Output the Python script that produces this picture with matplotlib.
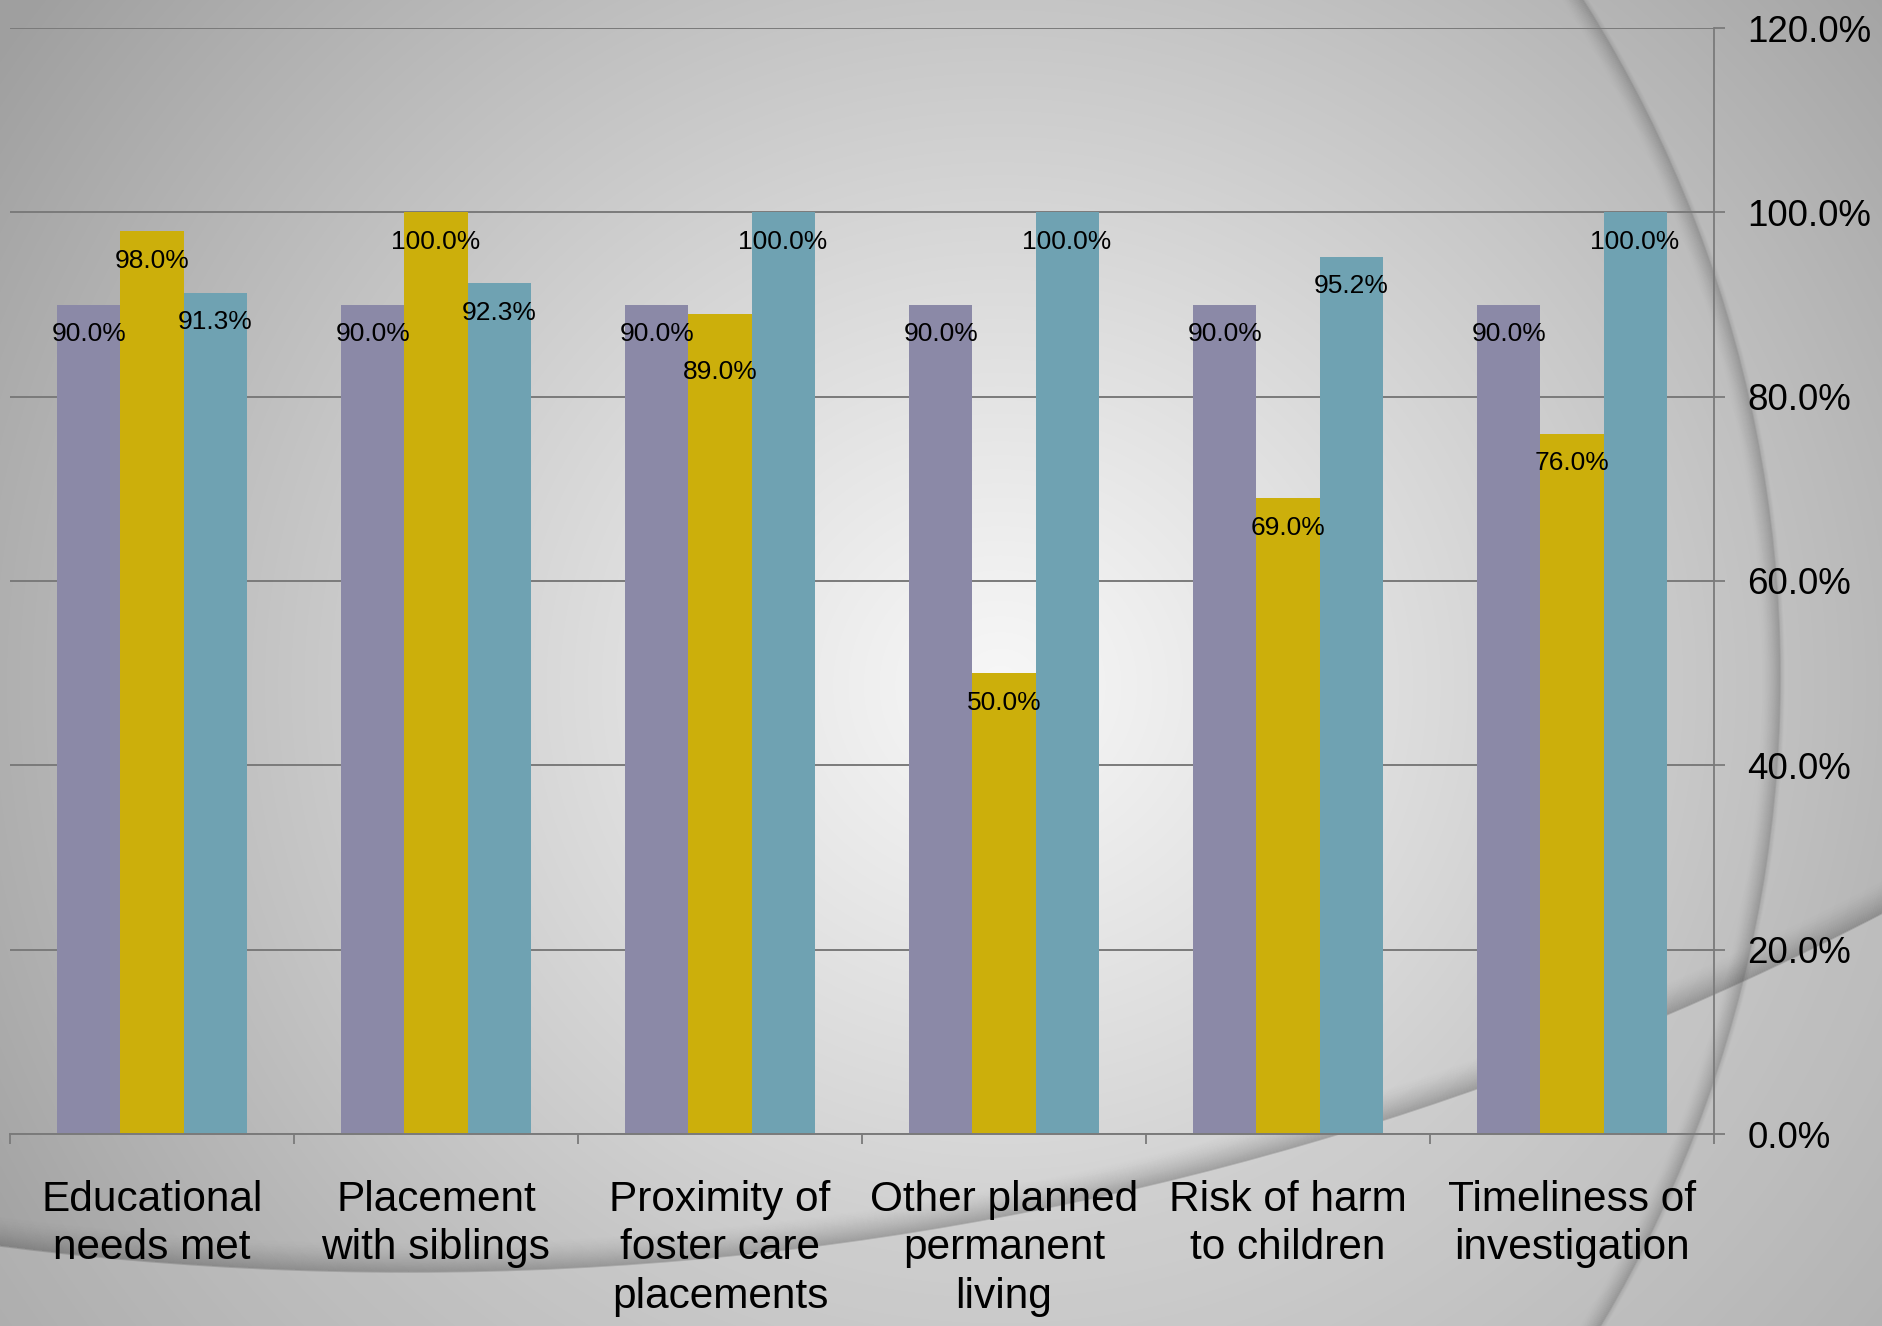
import numpy as np
import matplotlib
matplotlib.use("Agg")
import matplotlib.pyplot as plt
from matplotlib.patches import Circle

plt.rcParams["font.family"] = ["Liberation Sans", "DejaVu Sans"]

# chart data
categories = [
    "Educational\nneeds met",
    "Placement\nwith siblings",
    "Proximity of\nfoster care\nplacements",
    "Other planned\npermanent\nliving",
    "Risk of harm\nto children",
    "Timeliness of\ninvestigation",
]
target = [90.0, 90.0, 90.0, 90.0, 90.0, 90.0]
period_one = [98.0, 100.0, 89.0, 50.0, 69.0, 76.0]
period_two = [91.3, 92.3, 100.0, 100.0, 95.2, 100.0]
y_ticks = [0, 20, 40, 60, 80, 100, 120]

colors = ["#8b89a7", "#ccaf0b", "#6fa2b2"]
grid_col = "#7a7a7a"

W, H = 1883, 1326


def draw_background(fig):
    bg = fig.add_axes([0, 0, 1, 1], zorder=0)
    bg.set_xlim(0, W)
    bg.set_ylim(0, H)
    bg.axis("off")

    # radial grey gradient, light in the middle
    xx, yy = np.meshgrid(np.arange(W), np.arange(H))
    d = np.sqrt(((xx - 1000) / 1.05) ** 2 + (yy - 640) ** 2)
    v = 247 - 88 * np.clip(d / 1150, 0, 1) ** 1.1
    img = np.dstack([v, v, v]) / 255.0
    bg.imshow(img, extent=[0, W, 0, H], origin="lower", aspect="auto",
              interpolation="bilinear")

    # lighter panel under the lower swoosh
    cx, cy, r = 408, 3263, 3209
    mask = np.sqrt((xx - cx) ** 2 + (yy - cy) ** 2) > r
    lower = np.zeros((H, W, 4))
    lower[..., :3] = 0.80
    lower[..., 3] = np.where(mask, 0.35, 0)
    bg.imshow(lower, extent=[0, W, 0, H], origin="lower", aspect="auto")

    # shadow along the lower swoosh (inside the circle)
    for k in range(30):
        a = 0.22 * (1 - k / 30) ** 1.6
        bg.add_patch(Circle((cx, cy), r - k, fill=False, lw=1.2,
                            ec=(0.25, 0.25, 0.25, a)))

    # big arc on the right
    cx2, cy2, r2 = 518, 649, 1262
    for k in range(18):
        a = 0.22 * (1 - k / 18) ** 1.5
        bg.add_patch(Circle((cx2, cy2), r2 - k, fill=False, lw=1.2,
                            ec=(0.3, 0.3, 0.3, a)))
    for k in range(1, 5):
        a = 0.12 * (1 - k / 5)
        bg.add_patch(Circle((cx2, cy2), r2 + k, fill=False, lw=1.2,
                            ec=(0.3, 0.3, 0.3, a)))


def main():
    fig = plt.figure(figsize=(W / 100, H / 100), dpi=100)
    draw_background(fig)

    ax = fig.add_axes([10 / W, 192 / H, 1704 / W, 1106 / H], zorder=1)
    ax.patch.set_alpha(0)
    ax.set_xlim(-0.5, len(categories) - 0.5)
    ax.set_ylim(0, 120)

    # points per data unit, used to keep neighbouring labels apart
    pt_per_unit = (1106 / 120) * 72 / 100

    x = np.arange(len(categories))
    w = 0.222
    series = [target, period_one, period_two]
    prev_y = [None] * len(categories)
    for i, vals in enumerate(series):
        pos = x + (i - 1) * w
        ax.bar(pos, vals, width=w, color=colors[i], zorder=2)
        for j, (px, val) in enumerate(zip(pos, vals)):
            off = -21.5
            y_pt = val * pt_per_unit + off
            if prev_y[j] is not None and abs(y_pt - prev_y[j]) < 19:
                y_pt = prev_y[j] - 27
                off = y_pt - val * pt_per_unit
            prev_y[j] = y_pt
            ax.annotate(f"{val:.1f}%", (px, val), xytext=(0, off),
                        textcoords="offset points", ha="center", va="center",
                        fontsize=19, color="black", zorder=3)

    ax.yaxis.tick_right()
    ax.set_yticks(y_ticks)
    ax.set_yticklabels([f"{t:.1f}%" for t in y_ticks])
    ax.tick_params(axis="y", direction="out", length=8, width=1.3,
                   color=grid_col, pad=16, labelsize=26.5)
    ax.yaxis.grid(True, color=grid_col, lw=1.4)
    ax.set_axisbelow(True)

    ax.set_xticks(np.arange(-0.5, len(categories), 1))
    ax.set_xticklabels([])
    ax.set_xticks(x, minor=True)
    ax.set_xticklabels(categories, minor=True, fontsize=30.5, linespacing=1.27)
    ax.tick_params(axis="x", which="major", direction="out", length=7,
                   width=1.3, color=grid_col)
    ax.tick_params(axis="x", which="minor", length=0, pad=33)

    for s in ["left", "top"]:
        ax.spines[s].set_visible(False)
    ax.spines["right"].set_color(grid_col)
    ax.spines["right"].set_linewidth(1.3)
    ax.spines["bottom"].set_color(grid_col)
    ax.spines["bottom"].set_linewidth(1.4)

    fig.savefig("out.png", dpi=100)


if __name__ == "__main__":
    main()
